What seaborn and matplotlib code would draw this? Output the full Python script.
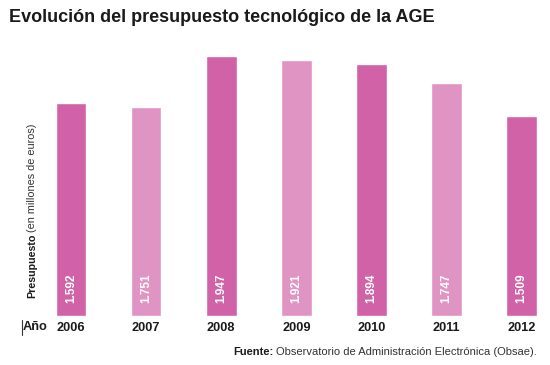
import matplotlib
matplotlib.use("Agg")
import matplotlib.pyplot as plt
import seaborn as sns
import pandas as pd

years = ["2006", "2007", "2008", "2009", "2010", "2011", "2012"]
# bar heights as drawn in the reference (millions of euros)
bar_heights = [1592, 1562, 1947, 1915, 1888, 1743, 1497]
value_labels = ["1.592", "1.751", "1.947", "1.921", "1.894", "1.747", "1.509"]
dark = "#d262a8"
light = "#df94c3"
bar_colors = [dark, light, dark, light, dark, light, dark]

sns.set_theme(style="white")
plt.rcParams["font.family"] = ["Liberation Sans", "DejaVu Sans"]

df = pd.DataFrame({"year": years, "value": bar_heights})

W, H = 550, 365
fig = plt.figure(figsize=(W / 100, H / 100), dpi=100)
base_px = 315.5
top_px = 40
ax = fig.add_axes([0, (H - base_px) / H, 1, (base_px - top_px) / H])

sns.barplot(data=df, x="year", y="value", hue="year", palette=bar_colors,
            legend=False, width=0.41, saturation=1, ax=ax)

px_per_cat = 75.1
x0 = 71
ax.set_xlim(-x0 / px_per_cat, (W - x0) / px_per_cat)
ax.set_ylim(0, (base_px - top_px) * 7.50)

for s in ax.spines.values():
    s.set_visible(False)
ax.set_yticks([])
ax.set_ylabel("")
ax.set_xlabel("")
ax.tick_params(axis="x", length=0, pad=5)
for lab in ax.get_xticklabels():
    lab.set_fontweight("bold")
    lab.set_fontsize(9.2)
    lab.set_color("#1a1a1a")

# values inside bars
for i, lbl in enumerate(value_labels):
    ax.text(i, 205, lbl, rotation=90, ha="center", va="center",
            color="white", fontsize=8.5, fontweight="bold")

# title
fig.text(9 / W, 1 - 17 / H, "Evolución del presupuesto tecnológico de la AGE",
         fontsize=13, fontweight="bold", color="#1a1a1a", ha="left", va="center")

# y label (two parts)
renderer = fig.canvas.get_renderer()
t1 = fig.text(32 / W, 1 - 298 / H, "Presupuesto", rotation=90, fontsize=7.7,
              fontweight="bold", color="#1a1a1a", ha="center", va="bottom")
bb1 = t1.get_window_extent(renderer=renderer)
fig.text(32 / W, (bb1.y1 + 2) / H, "(en millones de euros)", rotation=90, fontsize=7.8,
         color="#333333", ha="center", va="bottom")

# "Año" marker
fig.text(23 / W, 1 - 327 / H, "Año", fontsize=9.2, fontweight="bold",
         color="#1a1a1a", ha="left", va="center")
fig.add_artist(plt.Line2D([21.5 / W, 21.5 / W], [1 - 320 / H, 1 - 335 / H],
                          color="#333333", lw=0.8))

# source
src = fig.text(537 / W, 1 - 352 / H, "Observatorio de Administración Electrónica (Obsae).",
               fontsize=8, color="#333333", ha="right", va="center")
bb = src.get_window_extent(renderer=renderer)
fig.text((bb.x0 - 3) / W, 1 - 352 / H, "Fuente:", fontsize=8, fontweight="bold",
         color="#1a1a1a", ha="right", va="center")

fig.savefig("out.png", dpi=100, facecolor="white")
